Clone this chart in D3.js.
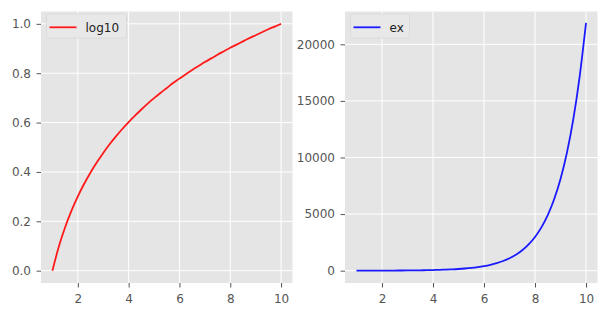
<!DOCTYPE html>
<html>
<head>
<meta charset="utf-8">
<script src="https://cdn.jsdelivr.net/npm/d3@7"></script>
<style>
    body { margin: 0; background: #fff; }
    text { font-family: "DejaVu Sans", sans-serif; }
</style>
</head>
<body>
<script>
const xs = [1, 1.25, 1.5, 1.75, 2, 2.25, 2.5, 2.75, 3, 3.25, 3.5, 3.75, 4, 4.25, 4.5, 4.75,
    5, 5.25, 5.5, 5.75, 6, 6.25, 6.5, 6.75, 7, 7.25, 7.5, 7.75, 8, 8.25, 8.5, 8.75,
    9, 9.25, 9.5, 9.75, 10];
const log10Values = [0, 0.097, 0.176, 0.243, 0.301, 0.352, 0.398, 0.439, 0.477, 0.512, 0.544,
    0.574, 0.602, 0.628, 0.653, 0.677, 0.699, 0.720, 0.740, 0.760, 0.778, 0.796, 0.813,
    0.829, 0.845, 0.860, 0.875, 0.889, 0.903, 0.916, 0.929, 0.942, 0.954, 0.966, 0.978,
    0.989, 1.0];
const expValues = [3, 3, 4, 6, 7, 9, 12, 16, 20, 26, 33, 43, 55, 70, 90, 116, 148, 191, 245,
    314, 403, 518, 665, 854, 1097, 1408, 1808, 2322, 2981, 3828, 4915, 6311, 8103, 10405,
    13360, 17154, 21900];

const xTicks = [2, 4, 6, 8, 10];
const leftYTicks = [0, 0.2, 0.4, 0.6, 0.8, 1.0];
const rightYTicks = [0, 5000, 10000, 15000, 20000];

const width = 610, height = 312;
const plotTop = 11.5, plotBottom = 283;

const svg = d3.select("body").append("svg")
    .attr("width", width)
    .attr("height", height);

function panel(opts) {
    const x = d3.scaleLinear().domain([0.55, 10.45]).range([opts.left, opts.right]);
    const y = d3.scaleLinear().domain(opts.yDomain).range([plotBottom, plotTop]);

    const g = svg.append("g");

    g.append("rect")
        .attr("x", opts.left)
        .attr("y", plotTop)
        .attr("width", opts.right - opts.left)
        .attr("height", plotBottom - plotTop)
        .attr("fill", "#e5e5e5");

    // grid
    g.selectAll(".gx")
        .data(xTicks)
        .enter().append("line")
        .attr("x1", d => x(d)).attr("x2", d => x(d))
        .attr("y1", plotTop).attr("y2", plotBottom)
        .attr("stroke", "#fff")
        .attr("stroke-width", 1);

    g.selectAll(".gy")
        .data(opts.yTicks)
        .enter().append("line")
        .attr("x1", opts.left).attr("x2", opts.right)
        .attr("y1", d => y(d)).attr("y2", d => y(d))
        .attr("stroke", "#fff")
        .attr("stroke-width", 1);

    // axes
    const xAxis = g.append("g")
        .attr("transform", "translate(0," + plotBottom + ")")
        .call(d3.axisBottom(x).tickValues(xTicks).tickSize(4.5).tickPadding(6.5));
    const yAxis = g.append("g")
        .attr("transform", "translate(" + opts.left + ",0)")
        .call(d3.axisLeft(y).tickValues(opts.yTicks).tickSize(4.5).tickPadding(5.5)
            .tickFormat(opts.fmt));

    [xAxis, yAxis].forEach(a => {
        a.select(".domain").remove();
        a.selectAll(".tick line").attr("stroke", "#555");
        a.selectAll(".tick text")
            .attr("fill", "#555")
            .attr("font-size", "12px")
            .attr("font-family", "DejaVu Sans");
    });

    const line = d3.line()
        .x((d, i) => x(xs[i]))
        .y(d => y(d))
        .curve(d3.curveMonotoneX);

    g.append("path")
        .datum(opts.values)
        .attr("d", line)
        .attr("fill", "none")
        .attr("stroke", opts.color)
        .attr("stroke-width", 1.8);

    // legend
    const lg = g.append("g").attr("transform", "translate(" + (opts.left + 5.5) + ",14)");
    lg.append("rect")
        .attr("width", opts.legendWidth)
        .attr("height", 24)
        .attr("rx", 2.5)
        .attr("fill", "#e8e8e8")
        .attr("stroke", "#d8d8d8")
        .attr("stroke-width", 0.8);
    lg.append("line")
        .attr("x1", 3).attr("x2", 30)
        .attr("y1", 13.3).attr("y2", 13.3)
        .attr("stroke", opts.color)
        .attr("stroke-width", 1.8);
    lg.append("text")
        .attr("x", 39)
        .attr("y", 18)
        .attr("font-size", "12px")
        .attr("fill", "#222")
        .text(opts.label);
}

panel({
    left: 41, right: 292.5,
    yDomain: [-0.05, 1.05],
    yTicks: leftYTicks,
    fmt: d3.format(".1f"),
    values: log10Values,
    color: "#ff1a1a",
    label: "log10",
    legendWidth: 80
});

panel({
    left: 345, right: 597.5,
    yDomain: [-1090, 22900],
    yTicks: rightYTicks,
    fmt: d3.format("d"),
    values: expValues,
    color: "#1a1aff",
    label: "ex",
    legendWidth: 59
});
</script>
</body>
</html>
